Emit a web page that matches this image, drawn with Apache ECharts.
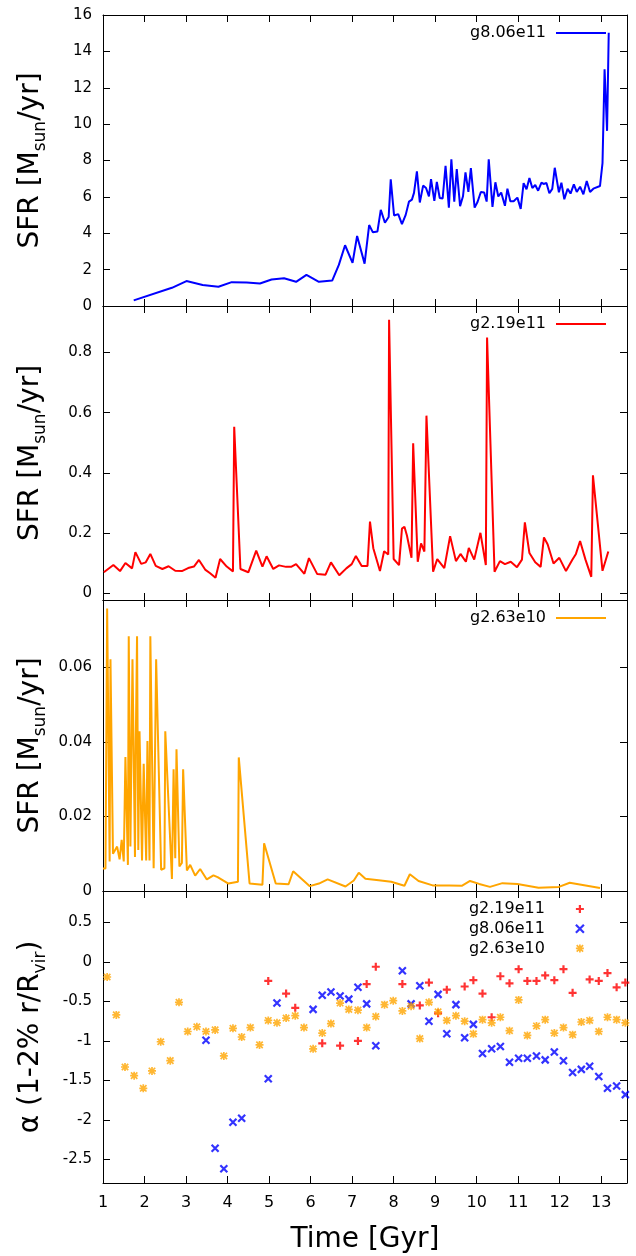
<!DOCTYPE html>
<html>
<head>
<meta charset="utf-8">
<script src="https://cdn.jsdelivr.net/npm/echarts@6/dist/echarts.min.js"></script>
<style>
  html, body { margin: 0; padding: 0; background: #fff; }
  #chart { width: 636px; height: 1256px; }
</style>
</head>
<body>
<div id="chart"></div>
<script>
// ---- data ----
// panel 1: g8.06e11 star formation rate
const timeG806 = [1.74, 2.66, 3.01, 3.40, 3.78, 4.10, 4.46, 4.78, 5.06, 5.36, 5.65, 5.90, 6.20, 6.52, 6.68, 6.83, 7.01, 7.12, 7.30, 7.41,
  7.50, 7.61, 7.69, 7.79, 7.88, 7.93, 8.01, 8.11, 8.20, 8.29, 8.37, 8.44, 8.49, 8.56, 8.63, 8.71, 8.78, 8.85, 8.90, 8.98,
  9.04, 9.11, 9.18, 9.25, 9.33, 9.39, 9.46, 9.52, 9.60, 9.67, 9.73, 9.80, 9.86, 9.95, 10.02, 10.10, 10.18, 10.24, 10.29, 10.38,
  10.45, 10.52, 10.59, 10.68, 10.74, 10.81, 10.89, 10.98, 11.06, 11.13, 11.20, 11.27, 11.34, 11.41, 11.48, 11.56, 11.61, 11.68, 11.75, 11.82,
  11.88, 11.98, 12.04, 12.11, 12.19, 12.26, 12.34, 12.41, 12.49, 12.57, 12.65, 12.73, 12.81, 12.97, 13.03, 13.08, 13.14, 13.18];
const sfrG806 = [0.31, 1.00, 1.37, 1.15, 1.06, 1.31, 1.29, 1.24, 1.46, 1.53, 1.33, 1.71, 1.33, 1.40, 2.26, 3.34, 2.37, 3.85, 2.33, 4.45,
  4.05, 4.10, 5.29, 4.58, 4.89, 6.96, 4.98, 5.05, 4.50, 5.01, 5.74, 5.85, 6.22, 7.40, 5.69, 6.62, 6.49, 6.03, 6.98, 5.78,
  6.82, 5.94, 5.91, 7.71, 5.40, 8.06, 5.74, 7.53, 5.49, 6.03, 7.35, 6.27, 7.58, 5.41, 5.72, 6.27, 6.24, 5.74, 8.06, 5.45,
  6.80, 6.02, 6.24, 5.51, 6.45, 5.76, 5.76, 5.96, 5.34, 6.76, 6.42, 7.04, 6.49, 6.65, 6.34, 6.78, 6.71, 6.76, 6.20, 6.44,
  7.60, 6.25, 6.78, 5.87, 6.45, 6.18, 6.69, 6.27, 6.56, 6.14, 6.87, 6.27, 6.45, 6.60, 7.86, 13.02, 9.63, 15.02];

// panel 2: g2.19e11 star formation rate
const timeG219 = [1.02, 1.25, 1.41, 1.54, 1.70, 1.78, 1.92, 2.03, 2.14, 2.27, 2.43, 2.58, 2.74, 2.90, 3.05, 3.19, 3.31, 3.46, 3.58, 3.71,
  3.82, 3.98, 4.13, 4.16, 4.31, 4.50, 4.69, 4.84, 4.94, 5.10, 5.24, 5.41, 5.53, 5.65, 5.85, 5.96, 6.16, 6.36, 6.49, 6.69,
  6.86, 6.99, 7.09, 7.23, 7.37, 7.43, 7.51, 7.67, 7.77, 7.87, 7.89, 8.00, 8.13, 8.20, 8.26, 8.32, 8.43, 8.47, 8.58, 8.66,
  8.74, 8.79, 8.95, 9.05, 9.22, 9.36, 9.50, 9.61, 9.74, 9.81, 9.94, 10.09, 10.22, 10.25, 10.43, 10.56, 10.68, 10.82, 10.97, 11.09,
  11.16, 11.27, 11.41, 11.54, 11.62, 11.71, 11.85, 11.99, 12.15, 12.30, 12.39, 12.49, 12.62, 12.76, 12.80, 13.03, 13.17];
const sfrG219 = [0.070, 0.094, 0.074, 0.101, 0.083, 0.137, 0.098, 0.103, 0.131, 0.091, 0.081, 0.090, 0.075, 0.074, 0.084, 0.089, 0.111, 0.079, 0.067, 0.052,
  0.114, 0.089, 0.073, 0.553, 0.081, 0.070, 0.142, 0.089, 0.123, 0.081, 0.093, 0.088, 0.088, 0.097, 0.065, 0.117, 0.064, 0.062, 0.103, 0.060,
  0.083, 0.097, 0.124, 0.091, 0.091, 0.238, 0.150, 0.074, 0.140, 0.129, 0.908, 0.114, 0.094, 0.215, 0.221, 0.192, 0.118, 0.498, 0.105, 0.166,
  0.139, 0.590, 0.072, 0.114, 0.084, 0.190, 0.107, 0.131, 0.105, 0.151, 0.112, 0.201, 0.094, 0.849, 0.072, 0.107, 0.097, 0.105, 0.087, 0.112,
  0.236, 0.134, 0.103, 0.088, 0.186, 0.162, 0.099, 0.118, 0.074, 0.111, 0.131, 0.174, 0.112, 0.055, 0.392, 0.075, 0.139];

// panel 3: g2.63e10 star formation rate
const timeG263 = [1.00, 1.06, 1.10, 1.16, 1.18, 1.24, 1.34, 1.40, 1.45, 1.50, 1.54, 1.60, 1.62, 1.66, 1.71, 1.77, 1.79, 1.82, 1.85, 1.88,
  1.94, 1.98, 2.04, 2.07, 2.12, 2.14, 2.22, 2.28, 2.40, 2.48, 2.50, 2.66, 2.70, 2.74, 2.77, 2.84, 2.90, 2.93, 3.02, 3.10,
  3.22, 3.34, 3.50, 3.66, 3.76, 4.02, 4.25, 4.27, 4.53, 4.84, 4.88, 5.16, 5.47, 5.58, 5.98, 6.20, 6.41, 6.84, 7.04, 7.16,
  7.32, 7.64, 7.94, 8.26, 8.39, 8.60, 8.94, 9.34, 9.64, 9.84, 10.06, 10.32, 10.62, 10.98, 11.49, 11.98, 12.24, 12.97];
const sfrG263 = [0.0060, 0.0060, 0.0757, 0.0079, 0.0621, 0.0100, 0.0119, 0.0085, 0.0137, 0.0079, 0.0359, 0.0070, 0.0683, 0.0119, 0.0621, 0.0091, 0.0404, 0.0683, 0.0110, 0.0428,
  0.0082, 0.0341, 0.0082, 0.0402, 0.0082, 0.0683, 0.0061, 0.0621, 0.0057, 0.0061, 0.0428, 0.0032, 0.0326, 0.0088, 0.0380, 0.0066, 0.0075, 0.0326, 0.0055, 0.0070,
  0.0041, 0.0059, 0.0031, 0.0042, 0.0037, 0.0020, 0.0025, 0.0358, 0.0020, 0.0017, 0.0128, 0.0020, 0.0018, 0.0053, 0.0013, 0.0020, 0.0031, 0.0012, 0.0028, 0.0049,
  0.0033, 0.0029, 0.0025, 0.0014, 0.0045, 0.0027, 0.0015, 0.0015, 0.0014, 0.0027, 0.0019, 0.0011, 0.0021, 0.0019, 0.0009, 0.0011, 0.0022, 0.0008];

// panel 4: inner density slope alpha
const alphaTimeG219 = [4.98, 5.41, 5.63, 6.28, 6.71, 7.14, 7.35, 7.57, 8.21, 8.63, 8.85, 9.07, 9.28, 9.71, 9.92, 10.14, 10.36, 10.57, 10.79, 11.01,
  11.22, 11.44, 11.65, 11.87, 12.09, 12.31, 12.72, 12.94, 13.15, 13.37, 13.58];
const alphaG219 = [-0.24, -0.40, -0.58, -1.03, -1.06, -1.00, -0.28, -0.06, -0.28, -0.55, -0.26, -0.65, -0.35, -0.31, -0.23, -0.40, -0.70, -0.18, -0.27, -0.09,
  -0.24, -0.24, -0.17, -0.23, -0.09, -0.39, -0.22, -0.24, -0.14, -0.32, -0.26];

const alphaTimeG806 = [3.48, 3.70, 3.91, 4.13, 4.34, 4.98, 5.19, 6.06, 6.28, 6.49, 6.71, 6.92, 7.14, 7.35, 7.57, 8.21, 8.42, 8.63, 8.85, 9.07,
  9.28, 9.50, 9.71, 9.92, 10.14, 10.36, 10.57, 10.79, 11.01, 11.22, 11.44, 11.65, 11.87, 12.09, 12.31, 12.52, 12.72, 12.94, 13.15, 13.37, 13.58];
const alphaG806 = [-0.99, -2.36, -2.62, -2.03, -1.98, -1.48, -0.52, -0.60, -0.42, -0.38, -0.43, -0.47, -0.32, -0.53, -1.06, -0.11, -0.53, -0.30, -0.75, -0.41,
  -0.91, -0.54, -0.96, -0.79, -1.16, -1.10, -1.07, -1.27, -1.22, -1.22, -1.19, -1.24, -1.14, -1.25, -1.40, -1.36, -1.32, -1.45, -1.60, -1.57, -1.68];

const alphaTimeG263 = [1.10, 1.32, 1.53, 1.75, 1.97, 2.18, 2.39, 2.62, 2.83, 3.04, 3.26, 3.48, 3.70, 3.91, 4.13, 4.34, 4.55, 4.77, 4.98, 5.19,
  5.41, 5.63, 5.84, 6.06, 6.28, 6.49, 6.71, 6.92, 7.14, 7.35, 7.57, 7.78, 7.99, 8.21, 8.42, 8.63, 8.85, 9.07, 9.28, 9.50,
  9.71, 9.92, 10.14, 10.36, 10.57, 10.79, 11.01, 11.22, 11.44, 11.65, 11.87, 12.09, 12.31, 12.52, 12.72, 12.94, 13.15, 13.37, 13.58];
const alphaG263 = [-0.19, -0.67, -1.33, -1.44, -1.60, -1.38, -1.01, -1.25, -0.51, -0.88, -0.82, -0.88, -0.86, -1.19, -0.84, -0.95, -0.83, -1.05, -0.74, -0.77,
  -0.71, -0.68, -0.83, -1.10, -0.90, -0.78, -0.52, -0.60, -0.61, -0.83, -0.69, -0.54, -0.49, -0.62, -0.56, -0.97, -0.51, -0.63, -0.74, -0.68,
  -0.75, -0.91, -0.73, -0.77, -0.70, -0.87, -0.48, -0.93, -0.81, -0.73, -0.90, -0.83, -0.92, -0.76, -0.74, -0.88, -0.70, -0.73, -0.77];

const galaxyNames = ['g8.06e11', 'g2.19e11', 'g2.63e10'];

// ---- chart ----
const FONT = 'DejaVu Sans';
const BLUE = '#0000ff', RED = '#ff0000', ORANGE = '#ffa500';
const X_MIN = 1, X_MAX = 13.62;
const ALPHA_TAG = ' (alpha)';

const SYM_PLUS = 'path://M0,5L10,5M5,0L5,10';
const SYM_CROSS = 'path://M0,0L10,10M0,10L10,0';
const SYM_STAR = 'path://M0,5L10,5M5,0L5,10M1,1L9,9M1,9L9,1';

function pairs(xs, ys) {
  return xs.map((x, i) => [x, ys[i]]);
}

const panels = [
  { top: 15, height: 291, y: { min: 0, max: 16, interval: 2 }, showMin: true, showMax: true },
  { top: 306, height: 294, y: { min: -0.022, max: 0.954, splitNumber: 5 }, showMin: false, showMax: false },
  { top: 600, height: 291, y: { min: 0, max: 0.078, interval: 0.02 }, showMin: true, showMax: false },
  { top: 891, height: 292, y: { min: -2.8, max: 0.9, splitNumber: 7 }, showMin: false, showMax: false }
];

const sfrName = '{a|SFR [M}{b|sun}{a|/yr]}';
const alphaName = '{a|α (1-2% r/R}{b|vir}{a|)}';
const nameRich = {
  a: { fontFamily: FONT, fontSize: 28, lineHeight: 36, color: '#000' },
  b: { fontFamily: FONT, fontSize: 17, lineHeight: 20, color: '#000', verticalAlign: 'bottom' }
};

const tickStyle = { show: true, inside: true, length: 7, lineStyle: { color: '#000', width: 1 } };
const lineAxis = { show: true, onZero: false, lineStyle: { color: '#000', width: 1 } };

const grid = panels.map(p => ({ left: 103, right: 9, top: p.top, height: p.height }));

const xAxis = [];
const yAxis = [];
panels.forEach((p, i) => {
  const last = i === panels.length - 1;
  xAxis.push({
    type: 'value', gridIndex: i, position: 'bottom', min: X_MIN, max: X_MAX, interval: 1,
    axisLine: lineAxis, axisTick: tickStyle, splitLine: { show: false },
    axisLabel: {
      show: last, fontFamily: FONT, fontSize: 16, color: '#000', margin: 12,
      showMinLabel: true, showMaxLabel: false,
      formatter: v => (Number.isInteger(v) ? String(v) : '')
    },
    name: last ? 'Time [Gyr]' : '', nameLocation: 'middle', nameGap: 43, nameMoveOverlap: false,
    nameTextStyle: { fontFamily: FONT, fontSize: 28, color: '#000' }
  });
  xAxis.push({
    type: 'value', gridIndex: i, position: 'top', min: X_MIN, max: X_MAX, interval: 1,
    axisLine: lineAxis, axisTick: tickStyle, splitLine: { show: false }, axisLabel: { show: false }
  });
  yAxis.push(Object.assign({
    type: 'value', gridIndex: i, position: 'left',
    axisLine: lineAxis, axisTick: tickStyle, splitLine: { show: false },
    axisLabel: {
      fontFamily: FONT, fontSize: 15, color: '#000', margin: 11,
      showMinLabel: p.showMin, showMaxLabel: p.showMax
    },
    name: last ? alphaName : sfrName, nameLocation: 'middle', nameRotate: 90, nameGap: 54,
    nameMoveOverlap: false,
    nameTextStyle: { rich: nameRich }
  }, p.y));
  yAxis.push(Object.assign({
    type: 'value', gridIndex: i, position: 'right',
    axisLine: lineAxis, axisTick: tickStyle, splitLine: { show: false }, axisLabel: { show: false }
  }, p.y));
});

function lineSeries(name, idx, xs, ys, color) {
  return {
    name: name, type: 'line', xAxisIndex: 2 * idx, yAxisIndex: 2 * idx,
    data: pairs(xs, ys), symbol: 'none', showSymbol: false, color: color,
    lineStyle: { color: color, width: 2 }, animation: false
  };
}

function scatterSeries(name, xs, ys, symbol, size, width, color) {
  return {
    name: name + ALPHA_TAG, type: 'scatter', xAxisIndex: 6, yAxisIndex: 6,
    data: pairs(xs, ys), symbol: symbol, symbolSize: size, color: color,
    itemStyle: { color: color, borderColor: color, borderWidth: width }, animation: false
  };
}

const series = [
  lineSeries(galaxyNames[0], 0, timeG806, sfrG806, BLUE),
  lineSeries(galaxyNames[1], 1, timeG219, sfrG219, RED),
  lineSeries(galaxyNames[2], 2, timeG263, sfrG263, ORANGE),
  scatterSeries(galaxyNames[1], alphaTimeG219, alphaG219, SYM_PLUS, 8, 2.2, RED),
  scatterSeries(galaxyNames[0], alphaTimeG806, alphaG806, SYM_CROSS, 7, 2.2, BLUE),
  scatterSeries(galaxyNames[2], alphaTimeG263, alphaG263, SYM_STAR, 8, 1.7, ORANGE)
];

const legendText = { fontFamily: FONT, fontSize: 16, color: '#000', padding: [0, 5, 0, 0] };
function lineLegend(name, top) {
  return {
    data: [{ name: name, icon: 'rect' }], orient: 'vertical', align: 'right', right: 30, top: top, padding: 0,
    itemWidth: 50, itemHeight: 2, selectedMode: false, textStyle: legendText
  };
}

const legend = [
  lineLegend(galaxyNames[0], 25),
  lineLegend(galaxyNames[1], 316),
  lineLegend(galaxyNames[2], 610),
  {
    data: [
      { name: galaxyNames[1] + ALPHA_TAG, icon: SYM_PLUS, itemStyle: { color: RED, borderColor: RED, borderWidth: 2.2 } },
      { name: galaxyNames[0] + ALPHA_TAG, icon: SYM_CROSS, itemStyle: { color: BLUE, borderColor: BLUE, borderWidth: 2.2 } },
      { name: galaxyNames[2] + ALPHA_TAG, icon: SYM_STAR, itemStyle: { color: ORANGE, borderColor: ORANGE, borderWidth: 1.7 } }
    ],
    orient: 'vertical', align: 'right', right: 51, top: 901, padding: 0, itemGap: 3.7,
    itemWidth: 8, itemHeight: 8, selectedMode: false,
    formatter: n => n.replace(ALPHA_TAG, ''),
    textStyle: { fontFamily: FONT, fontSize: 16, color: '#000', padding: [0, 26, 0, 0] }
  }
];

const myChart = echarts.init(document.getElementById('chart'));
myChart.setOption({
  backgroundColor: '#fff',
  animation: false,
  grid: grid,
  xAxis: xAxis,
  yAxis: yAxis,
  legend: legend,
  series: series
});
</script>
</body>
</html>
